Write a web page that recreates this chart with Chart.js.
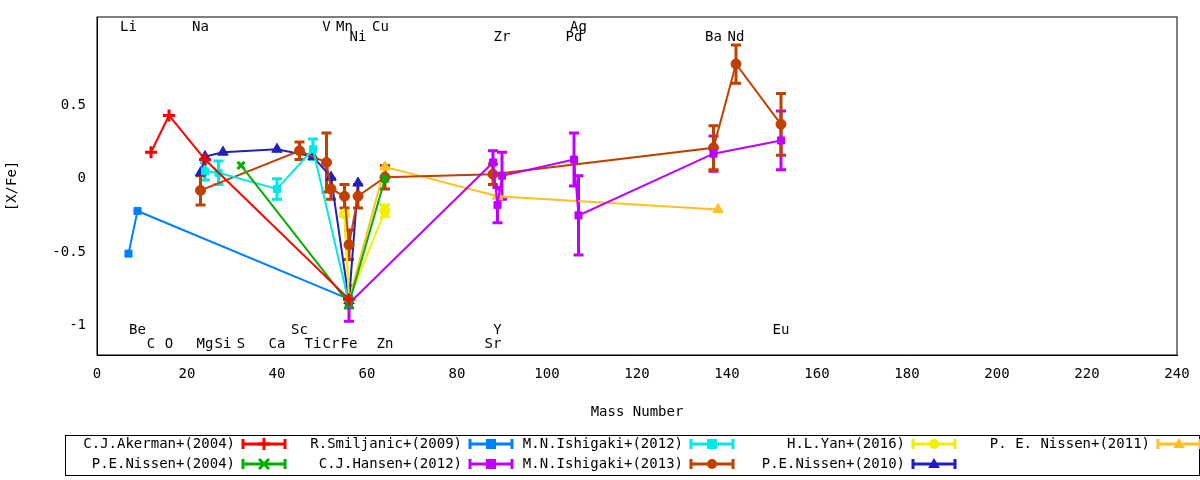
<!DOCTYPE html><html><head><script src="https://cdn.jsdelivr.net/npm/chart.js@4"></script>
<style>body{margin:0;background:#fff}#w{width:1200px;height:480px}</style></head><body><div id="w"><canvas id="c"></canvas></div>
<script>
const akermanX=[12,16,24,56], akermanY=[0.18,0.43,0.13,-0.82], akermanE=[0,0,0,0];
const smiljanicX=[7,9,56], smiljanicY=[-0.51,-0.22,-0.82], smiljanicE=[0,0,0];
const ishi12X=[24,27,40,48,56], ishi12Y=[0.05,0.04,-0.07,0.2,-0.85], ishi12E=[0.06,0.08,0.07,0.07,0];
const yanX=[55,56,64], yanY=[-0.24,-0.82,-0.22], yanE=[0,0,0.04];
const pen11X=[55,56,64,89,138], pen11Y=[-0.24,-0.82,0.08,-0.12,-0.21], pen11E=[0,0,0,0,0];
const pen04X=[32,56,64], pen04Y=[0.09,-0.85,0.0], pen04E=[0,0.03,0];
const hansenX=[56,88,89,90,106,107,137,152], hansenY=[-0.85,0.11,-0.18,0.02,0.13,-0.25,0.17,0.26], hansenE=[0.12,0.08,0.12,0.16,0.18,0.27,0.12,0.2];
const ishi13X=[23,45,51,52,55,56,58,64,88,137,142,152], ishi13Y=[-0.08,0.19,0.11,-0.07,-0.12,-0.45,-0.12,0.01,0.03,0.21,0.78,0.37], ishi13E=[0.1,0.06,0.2,0.07,0.08,0.1,0.08,0.08,0.07,0.15,0.13,0.21];
const pen10X=[23,24,28,40,48,52,56,58], pen10Y=[0.04,0.15,0.18,0.2,0.15,0.01,-0.83,-0.03], pen10E=[0,0,0,0,0,0,0,0];
const topLabels=[["Li",7,1],["Na",23,1],["V",51,1],["Mn",55,1],["Ni",58,2],["Cu",63,1],["Zr",90,2],["Ag",107,1],["Pd",106,2],["Ba",137,2],["Nd",142,2]];
const botLabels=[["Be",9,1],["C",12,2],["O",16,2],["Mg",24,2],["Si",28,2],["S",32,2],["Sc",45,1],["Ca",40,2],["Ti",48,2],["Cr",52,2],["Fe",56,2],["Zn",64,2],["Y",89,1],["Sr",88,2],["Eu",152,1]];
const F='"DejaVu Sans Mono", monospace';
function ds(label,X,Y,E,color,style,r){return{label,data:X.map((x,i)=>({x,y:Y[i]})),errs:E,borderColor:color,backgroundColor:color,pointStyle:style,pointRadius:r,pointBorderWidth:style==='cross'||style==='crossRot'?3:1,borderWidth:2,showLine:true,tension:0};}
const sets=[ds('C.J.Akerman+(2004)',akermanX,akermanY,akermanE,'#ff0000','cross',6),
ds('P.E.Nissen+(2004)',pen04X,pen04Y,pen04E,'#00b000','crossRot',5),
ds('R.Smiljanic+(2009)',smiljanicX,smiljanicY,smiljanicE,'#0080ff','rect',5),
ds('C.J.Hansen+(2012)',hansenX,hansenY,hansenE,'#c000ff','rect',5),
ds('M.N.Ishigaki+(2012)',ishi12X,ishi12Y,ishi12E,'#00e8e8','rect',5),
ds('M.N.Ishigaki+(2013)',ishi13X,ishi13Y,ishi13E,'#c04000','circle',5),
ds('H.L.Yan+(2016)',yanX,yanY,yanE,'#f0f000','circle',5),
ds('P.E.Nissen+(2010)',pen10X,pen10Y,pen10E,'#2020c0','triangle',6),
ds('P. E. Nissen+(2011)',pen11X,pen11Y,pen11E,'#ffc020','triangle',6)];
const legendPos=[[0,235,444],[2,462,444],[4,683,444],[6,905,444],[8,1150,444],[1,235,464],[3,462,464],[5,683,464],[7,905,464]];
const plug={id:'p',
beforeDatasetsDraw(ch){const c=ch.ctx,xs=ch.scales.x,ys=ch.scales.y;c.save();
 ch.data.datasets.forEach(d=>{c.strokeStyle=d.borderColor;c.lineWidth=3;d.data.forEach((p,i)=>{const e=d.errs[i];if(!e)return;const x=xs.getPixelForValue(p.x),y1=ys.getPixelForValue(p.y-e),y2=ys.getPixelForValue(p.y+e);c.beginPath();c.moveTo(x,y1);c.lineTo(x,y2);c.moveTo(x-5,y1);c.lineTo(x+5,y1);c.moveTo(x-5,y2);c.lineTo(x+5,y2);c.stroke();});});c.restore();},
afterDraw(ch){const c=ch.ctx,xs=ch.scales.x,ys=ch.scales.y,a=ch.chartArea;c.save();c.font='14px '+F;c.fillStyle='#000';c.textAlign='center';c.textBaseline='middle';
 topLabels.forEach(([t,m,r])=>c.fillText(t,xs.getPixelForValue(m),r===1?27:37));
 botLabels.forEach(([t,m,r])=>c.fillText(t,xs.getPixelForValue(m),r===1?330:344));
 c.strokeStyle='#000';c.lineWidth=1;c.strokeRect(a.left,a.top,a.right-a.left,a.bottom-a.top);
 c.strokeRect(65.5,435.5,1134,40);
 legendPos.forEach(([i,x,y])=>{const d=ch.data.datasets[i];c.textAlign='right';c.fillStyle='#000';c.fillText(d.label,x,y);
  c.strokeStyle=d.borderColor;c.lineWidth=3;c.beginPath();c.moveTo(x+8,y);c.lineTo(x+50,y);c.moveTo(x+8,y-5);c.lineTo(x+8,y+5);c.moveTo(x+50,y-5);c.lineTo(x+50,y+5);c.stroke();
  c.fillStyle=d.borderColor;const cx=x+29;c.beginPath();
  if(d.pointStyle==='rect'){c.fillRect(cx-5,y-5,10,10);}
  else if(d.pointStyle==='circle'){c.arc(cx,y,5,0,7);c.fill();}
  else if(d.pointStyle==='triangle'){c.moveTo(cx,y-6);c.lineTo(cx+6,y+4);c.lineTo(cx-6,y+4);c.fill();}
  else if(d.pointStyle==='cross'){c.moveTo(cx-6,y);c.lineTo(cx+6,y);c.moveTo(cx,y-6);c.lineTo(cx,y+6);c.stroke();}
  else {c.moveTo(cx-5,y-5);c.lineTo(cx+5,y+5);c.moveTo(cx+5,y-5);c.lineTo(cx-5,y+5);c.stroke();}
 });c.restore();}};
new Chart(document.getElementById('c'),{type:'scatter',data:{datasets:sets},plugins:[plug],
options:{responsive:true,maintainAspectRatio:false,animation:false,layout:{padding:{top:17,right:23,bottom:55,left:0}},
plugins:{legend:{display:false},tooltip:{enabled:false}},
scales:{x:{type:'linear',min:0,max:240,grid:{display:false},border:{color:'#000'},ticks:{stepSize:20,color:'#000',font:{family:F,size:14},maxRotation:0},title:{display:true,text:'Mass Number',color:'#000',font:{family:F,size:14}},afterFit(s){s.height=70;}},
y:{min:-1.2,max:1.1,grid:{display:false},border:{color:'#000'},ticks:{callback:v=>[-1,-0.5,0,0.5,1].includes(v)?String(v):null,stepSize:0.1,autoSkip:false,color:'#000',font:{family:F,size:14}},title:{display:true,text:'[X/Fe]',color:'#000',font:{family:F,size:14}},afterFit(s){s.width=97;}}}}});
</script></body></html>
